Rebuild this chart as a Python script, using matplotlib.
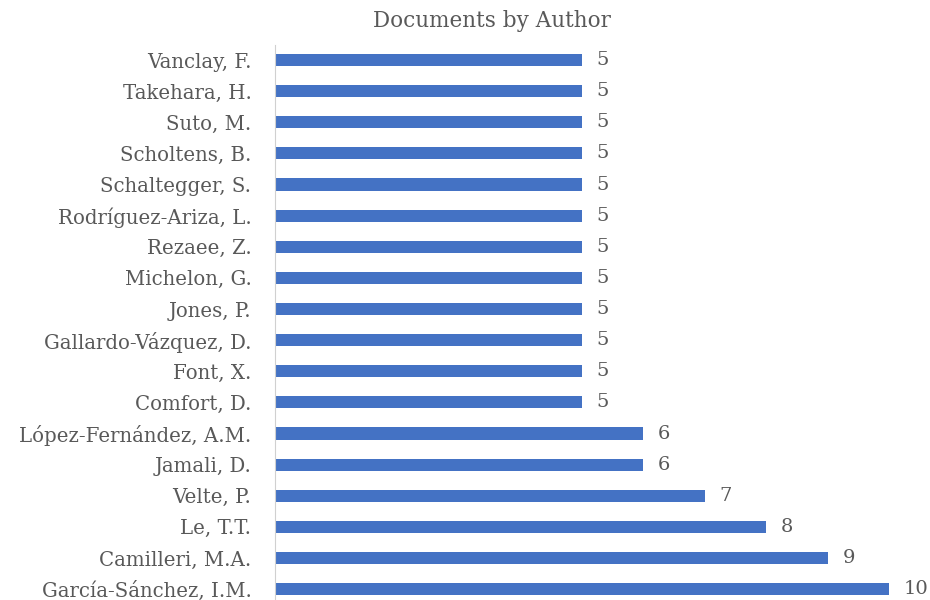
import matplotlib.pyplot as plt

authors = ["García-Sánchez, I.M.", "Camilleri, M.A.", "Le, T.T.", "Velte, P.",
           "Jamali, D.", "López-Fernández, A.M.", "Comfort, D.", "Font, X.",
           "Gallardo-Vázquez, D.", "Jones, P.", "Michelon, G.", "Rezaee, Z.",
           "Rodríguez-Ariza, L.", "Schaltegger, S.", "Scholtens, B.", "Suto, M.",
           "Takehara, H.", "Vanclay, F."]
docs = [10, 9, 8, 7, 6, 6, 5, 5, 5, 5, 5, 5, 5, 5, 5, 5, 5, 5]

plt.rcParams['font.family'] = ['DejaVu Serif']
txt_color = '#595959'

fig = plt.figure(figsize=(9.3, 6), dpi=100)
ax = fig.add_axes([275 / 930, 0.0, (889 - 275) / 930, 1 - 44.5 / 600])

pos = list(range(len(authors)))
bars = ax.barh(pos, docs, height=0.39, color='#4472C4')
for p, v in zip(pos, docs):
    ax.text(v + 0.24, p, str(v), va='center', ha='left', fontsize=14,
            color=txt_color, clip_on=False)

ax.set_yticks(pos)
ax.set_yticklabels(authors, fontsize=14.2, color=txt_color)
ax.set_xlim(0, 10)
ax.set_ylim(-0.35, 17.5)
ax.set_xticks([])
ax.tick_params(axis='y', length=0, pad=17)
for s in ['top', 'right', 'bottom']:
    ax.spines[s].set_visible(False)
ax.spines['left'].set_color('#D0D0D0')

fig.text(492 / 930, 1 - 21 / 600, "Documents by Author", ha='center', va='center',
         fontsize=15.5, color=txt_color)

fig.savefig('out.png', dpi=100)
